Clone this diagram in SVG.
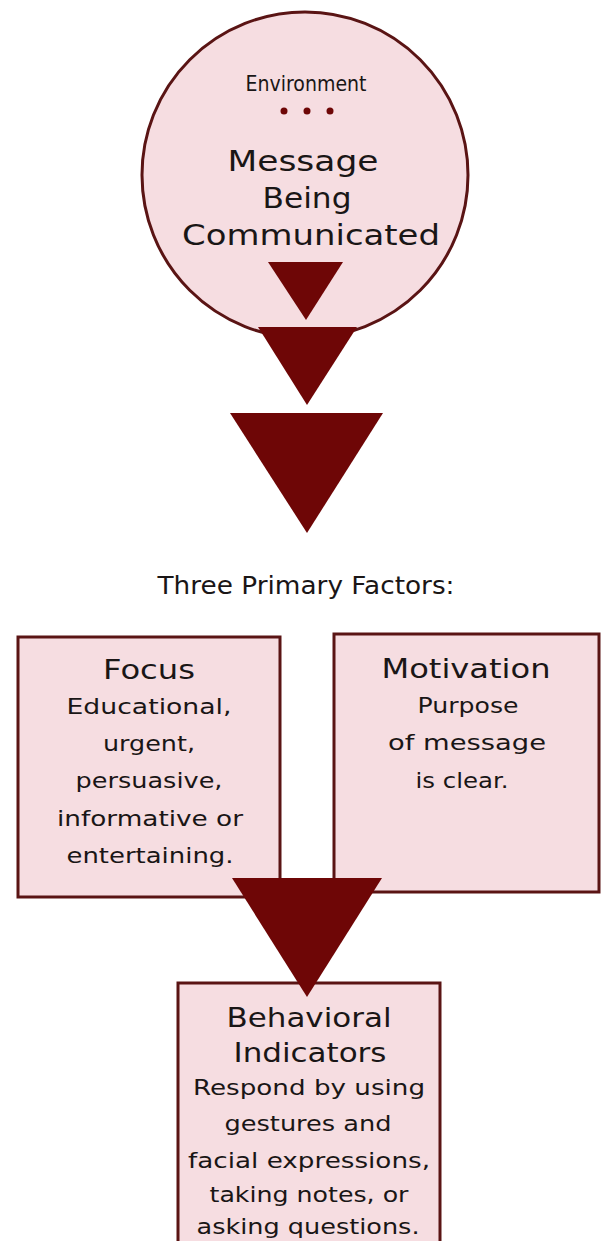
<svg xmlns="http://www.w3.org/2000/svg" width="606" height="1241" viewBox="0 0 606 1241">
<style>
.node{fill:#f6dde1;stroke:#5a1414;stroke-width:3}
.t{font-family:"DejaVu Sans","Liberation Sans",sans-serif;fill:#1a1616;text-anchor:middle}
.h{font-size:27px}
.b{font-size:22px}
.tri{fill:#6e0606}
</style>
<rect width="606" height="1241" fill="#ffffff"/>
<g id="message">
<circle class="node" cx="305" cy="175" r="163" stroke-width="2.5"/>
<text class="t" x="306" y="91" font-size="21" textLength="121" lengthAdjust="spacingAndGlyphs">Environment</text>
<circle cx="284" cy="111" r="3.5" fill="#6e0606"/>
<circle cx="307" cy="111" r="3.5" fill="#6e0606"/>
<circle cx="330" cy="111" r="3.5" fill="#6e0606"/>
<text class="t" x="303" y="171" font-size="29" textLength="151" lengthAdjust="spacingAndGlyphs">Message</text>
<text class="t" x="307" y="208" font-size="29" textLength="89" lengthAdjust="spacingAndGlyphs">Being</text>
<text class="t" x="311" y="245" font-size="29" textLength="258" lengthAdjust="spacingAndGlyphs">Communicated</text>
</g>
<g id="factors-title">
<text class="t" x="306" y="594" font-size="25" textLength="297" lengthAdjust="spacingAndGlyphs">Three Primary Factors:</text>
</g>
<g id="focus">
<rect class="node" x="18" y="637" width="262" height="260"/>
<text class="t h" x="149" y="679" textLength="92" lengthAdjust="spacingAndGlyphs">Focus</text>
<text class="t b" x="149" y="714" textLength="165" lengthAdjust="spacingAndGlyphs">Educational,</text>
<text class="t b" x="149" y="751" textLength="92" lengthAdjust="spacingAndGlyphs">urgent,</text>
<text class="t b" x="149" y="788" textLength="147" lengthAdjust="spacingAndGlyphs">persuasive,</text>
<text class="t b" x="150" y="826" textLength="186" lengthAdjust="spacingAndGlyphs">informative or</text>
<text class="t b" x="150" y="863" textLength="167" lengthAdjust="spacingAndGlyphs">entertaining.</text>
</g>
<g id="motivation">
<rect class="node" x="334" y="634" width="265" height="258"/>
<text class="t h" x="466" y="678" textLength="169" lengthAdjust="spacingAndGlyphs">Motivation</text>
<text class="t b" x="468" y="713" textLength="101" lengthAdjust="spacingAndGlyphs">Purpose</text>
<text class="t b" x="467" y="750" textLength="158" lengthAdjust="spacingAndGlyphs">of message</text>
<text class="t b" x="462" y="788" textLength="93" lengthAdjust="spacingAndGlyphs">is clear.</text>
</g>
<g id="behavioral">
<rect class="node" x="178" y="983" width="262" height="270"/>
<text class="t h" x="309" y="1027" textLength="165" lengthAdjust="spacingAndGlyphs">Behavioral</text>
<text class="t h" x="310" y="1062" textLength="153" lengthAdjust="spacingAndGlyphs">Indicators</text>
<text class="t b" x="309" y="1095" textLength="232" lengthAdjust="spacingAndGlyphs">Respond by using</text>
<text class="t b" x="308" y="1131" textLength="167" lengthAdjust="spacingAndGlyphs">gestures and</text>
<text class="t b" x="309" y="1168" textLength="242" lengthAdjust="spacingAndGlyphs">facial expressions,</text>
<text class="t b" x="309" y="1202" textLength="199" lengthAdjust="spacingAndGlyphs">taking notes, or</text>
<text class="t b" x="308" y="1234" textLength="223" lengthAdjust="spacingAndGlyphs">asking questions.</text>
</g>
<g id="connectors">
<polygon class="tri" points="268,262 343,262 306,320"/>
<polygon class="tri" points="258,327 357,327 307,405"/>
<polygon class="tri" points="230,413 383,413 307,533"/>
<polygon class="tri" points="232,878 382,878 307,997"/>
</g>
</svg>
